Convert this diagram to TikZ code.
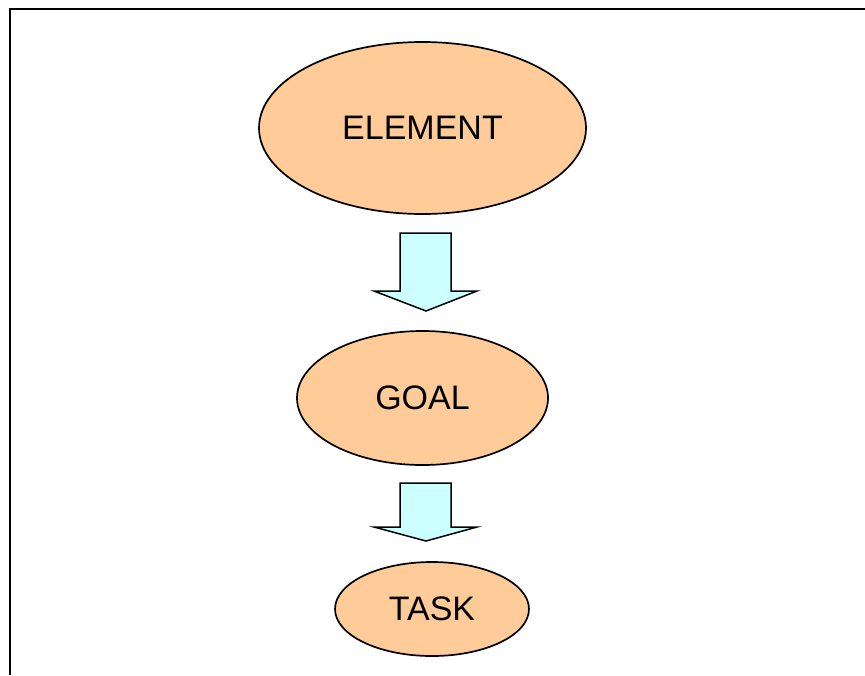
\documentclass[tikz,border=0pt]{standalone}
\usepackage{fontspec}
\setmainfont{Liberation Sans}
\usetikzlibrary{shapes.geometric}

\definecolor{peach}{HTML}{FFCC99}
\definecolor{paleblue}{HTML}{CCFFFF}

\tikzset{
	stage/.style={ellipse, draw=black, fill=peach, line width=0.85pt, inner sep=0pt,
		font=\fontsize{17}{20}\selectfont},
	blockarrow/.style={draw=black, fill=paleblue, line width=0.75pt, line join=miter}
}

\begin{document}
\begin{tikzpicture}[x=0.5pt, y=-0.5pt]
	\useasboundingbox (0,0) rectangle (865,675);
	\draw[line width=1pt] (10,675) -- (10,8.5) -- (866,8.5);

	\node[stage, minimum width=163.5pt, minimum height=86pt] (element) at (422.5,128) {ELEMENT};
	\node[stage, minimum width=125.5pt, minimum height=67pt] (goal) at (422.5,398) {GOAL};
	\node[stage, minimum width=97pt, minimum height=47pt] (task) at (432,609) {TASK};

	% block arrows between the stages
	\draw[blockarrow] (400,233) -- (451,233) -- (451,291) -- (477,291) -- (426,311)
		-- (374,291) -- (400,291) -- cycle;
	\draw[blockarrow] (400,483) -- (451,483) -- (451,527) -- (477,527) -- (426,541)
		-- (374,527) -- (400,527) -- cycle;
\end{tikzpicture}
\end{document}
